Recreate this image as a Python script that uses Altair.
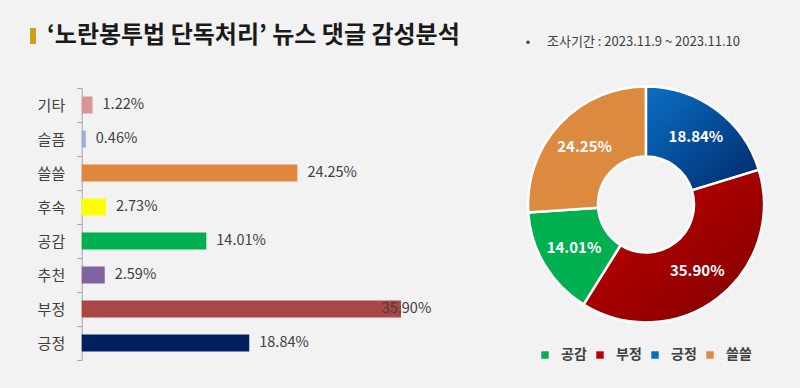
import altair as alt
import pandas as pd

# ---- data ----
categories = ["기타", "슬픔", "쓸쓸", "후속", "공감", "추천", "부정", "긍정"]
values = [1.22, 0.46, 24.25, 2.73, 14.01, 2.59, 35.90, 18.84]
bar_colors = ["#d99694", "#95b3d7", "#e0873d", "#ffff00", "#00b050", "#8064a2", "#aa4643", "#002060"]

donut_cats = ["긍정", "부정", "공감", "쓸쓸"]
donut_vals = [18.84, 35.90, 14.01, 24.25]
legend_order = ["공감", "부정", "긍정", "쓸쓸"]
legend_colors = ["#00b050", "#c00000", "#0070c0", "#db8a40"]

title_text = "‘노란봉투법 단독처리’ 뉴스 댓글 감성분석"
period_text = "조사기간 : 2023.11.9 ~ 2023.11.10"

FONT = "Noto Sans CJK KR"

bars_df = pd.DataFrame({"cat": categories, "value": values, "color": bar_colors})
donut_df = pd.DataFrame({"dcat": donut_cats, "v": donut_vals, "ord": list(range(len(donut_cats)))})
one = pd.DataFrame({"k": [0]})

xscale = alt.Scale(domain=[0, 36], range=[81.7, 401.9])
yscale = alt.Scale(domain=categories, range=[88, 360], paddingInner=0, paddingOuter=0)

bars = alt.Chart(bars_df).mark_bar(height=17).encode(
    x=alt.X("value:Q", scale=xscale, axis=None),
    y=alt.Y("cat:N", sort=categories, scale=yscale,
            axis=alt.Axis(title=None, offset=-81.7, tickBand="extent", tickSize=5,
                          tickColor="#a6a6a6", domainColor="#a6a6a6", labelFontSize=15,
                          labelColor="#404040", labelFont=FONT, labelPadding=12, grid=False)),
    color=alt.Color("color:N", scale=None),
)

bar_labels = alt.Chart(bars_df).transform_calculate(
    lx="min(datum.value, 32.6)",
    lab="format(datum.value, '.2f') + '%'",
).mark_text(align="left", baseline="middle", dx=10, fontSize=14.5, font=FONT, color="#404040").encode(
    x=alt.X("lx:Q", scale=xscale, axis=None),
    y=alt.Y("cat:N", sort=categories, scale=yscale),
    text="lab:N",
)

CX, CY = 646, 204.5

donut_base = alt.Chart(donut_df).mark_arc(outerRadius=118, innerRadius=48, stroke="white", strokeWidth=2.5).encode(
    theta=alt.Theta("v:Q", stack=True),
    order=alt.Order("ord:Q"),
    x=alt.value(CX), y=alt.value(CY),
    color=alt.Color("dcat:N", scale=alt.Scale(domain=legend_order, range=legend_colors),
                    legend=alt.Legend(orient="none", legendX=538, legendY=348, direction="horizontal",
                                      title=None, symbolType="square", symbolSize=55, symbolStrokeWidth=0,
                                      labelFontSize=14, labelFontWeight="bold", labelColor="#404040",
                                      labelFont=FONT, columnPadding=6, labelOffset=9)),
)


def grad_layer(name, c1, c2):
    g = alt.LinearGradient(gradient="linear",
                           stops=[alt.GradientStop(color=c1, offset=0), alt.GradientStop(color=c2, offset=1)],
                           x1=0, y1=0, x2=1, y2=1)
    return alt.Chart(donut_df).mark_arc(outerRadius=118, innerRadius=48, stroke="white", strokeWidth=2.5,
                                        fill=g).encode(
        theta=alt.Theta("v:Q", stack=True),
        order=alt.Order("ord:Q"),
        x=alt.value(CX), y=alt.value(CY),
        opacity=alt.condition(alt.datum.dcat == name, alt.value(1), alt.value(0)),
    )


blue_grad = grad_layer("긍정", "#0a6fc6", "#00296a")
red_grad = grad_layer("부정", "#c80000", "#7e0000")

donut_labels = alt.Chart(donut_df).transform_calculate(
    lab="format(datum.v, '.2f') + '%'"
).mark_text(radius=84, fontSize=15, fontWeight="bold", font=FONT, color="white").encode(
    theta=alt.Theta("v:Q", stack=True),
    order=alt.Order("ord:Q"),
    x=alt.value(CX), y=alt.value(CY),
    text="lab:N",
)

gold = alt.Chart(one).mark_rect(color="#cfa215").encode(
    x=alt.value(30), x2=alt.value(36), y=alt.value(28), y2=alt.value(44)
)
title = alt.Chart(one).mark_text(text=title_text, align="left", baseline="middle", fontSize=24,
                                 fontWeight="bold", font=FONT, color="#1a1a1a").encode(
    x=alt.value(47), y=alt.value(36)
)
bullet = alt.Chart(one).mark_text(text="•", align="center", baseline="middle", fontSize=13,
                                  font=FONT, color="#404040").encode(x=alt.value(528), y=alt.value(42))
period = alt.Chart(one).mark_text(text=period_text, align="left", baseline="middle", fontSize=13,
                                  font=FONT, color="#404040").encode(x=alt.value(547), y=alt.value(42))

chart = alt.layer(
    bars, bar_labels, donut_base, blue_grad, red_grad, donut_labels, gold, title, bullet, period
).properties(
    width=800, height=388, padding=0, background="#f2f2f2",
    autosize=alt.AutoSizeParams(type="none"),
).configure_view(stroke=None)

chart.save("out.html", embed_options={"renderer": "svg", "actions": False})
